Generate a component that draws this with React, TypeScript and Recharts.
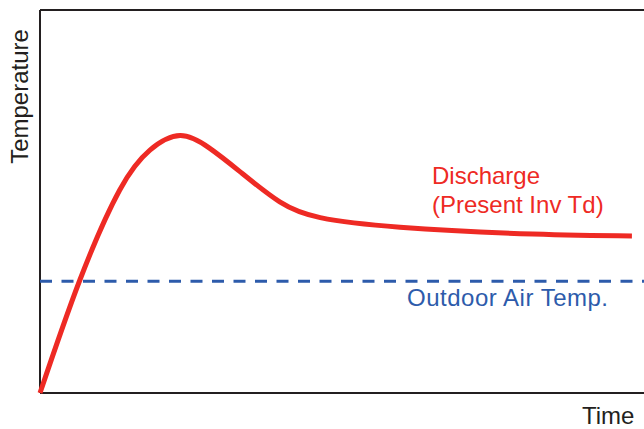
import { ComposedChart, Line, XAxis, YAxis, ReferenceLine } from "recharts";

// time (0-100) vs temperature (0-100)
const times = [0, 6.6, 13.2, 18.2, 23.2, 28, 33.1, 39.7, 46.4, 59.6, 81.6, 98];
const discharge = [0, 29.5, 53.0, 63.4, 67.2, 64.0, 57.8, 49.9, 45.8, 43.3, 41.5, 41];
const outdoorAirTemp = 29.2;

const dischargeLabel = ["Discharge", "(Present Inv Td)"];
const outdoorLabel = "Outdoor Air Temp.";

const RED = "#ee2a24";
const BLUE = "#2d5bab";
const INK = "#231f20";
const FONT = "'Liberation Sans', Arial, sans-serif";

const data = times.map((t, i) => ({ t, discharge: discharge[i] }));

export default function App() {
  return (
    <div style={{ position: "absolute", left: 0, top: 0, width: 644, height: 429, background: "#fff" }}>
      <ComposedChart
        width={644}
        height={429}
        data={data}
        margin={{ top: 10, right: 0, bottom: 36, left: 40 }}
      >
        <XAxis dataKey="t" type="number" domain={[0, 100]} hide />
        <YAxis type="number" domain={[0, 100]} hide />
        {/* frame: left, bottom and top edges, no right edge */}
        <ReferenceLine x={0} stroke={INK} strokeWidth={2} />
        <ReferenceLine y={0} stroke={INK} strokeWidth={2} />
        <ReferenceLine y={100} stroke={INK} strokeWidth={2} />
        <ReferenceLine
          y={outdoorAirTemp}
          stroke={BLUE}
          strokeWidth={3}
          strokeDasharray="12 9.5"
        />
        <Line
          type="natural"
          dataKey="discharge"
          stroke={RED}
          strokeWidth={5}
          dot={false}
          isAnimationActive={false}
        />
      </ComposedChart>
      <svg
        width={644}
        height={429}
        style={{ position: "absolute", left: 0, top: 0, pointerEvents: "none" }}
        fontFamily={FONT}
        fontSize={24}
      >
        <text x={432} y={184} fill={RED}>{dischargeLabel[0]}</text>
        <text x={432} y={213} fill={RED}>{dischargeLabel[1]}</text>
        <text x={407} y={306} fill={BLUE} letterSpacing={0.5}>{outdoorLabel}</text>
        <text x={582} y={424} fill={INK}>Time</text>
        <text transform="translate(28,96.5) rotate(-90)" textAnchor="middle" fill={INK}>
          Temperature
        </text>
      </svg>
    </div>
  );
}
